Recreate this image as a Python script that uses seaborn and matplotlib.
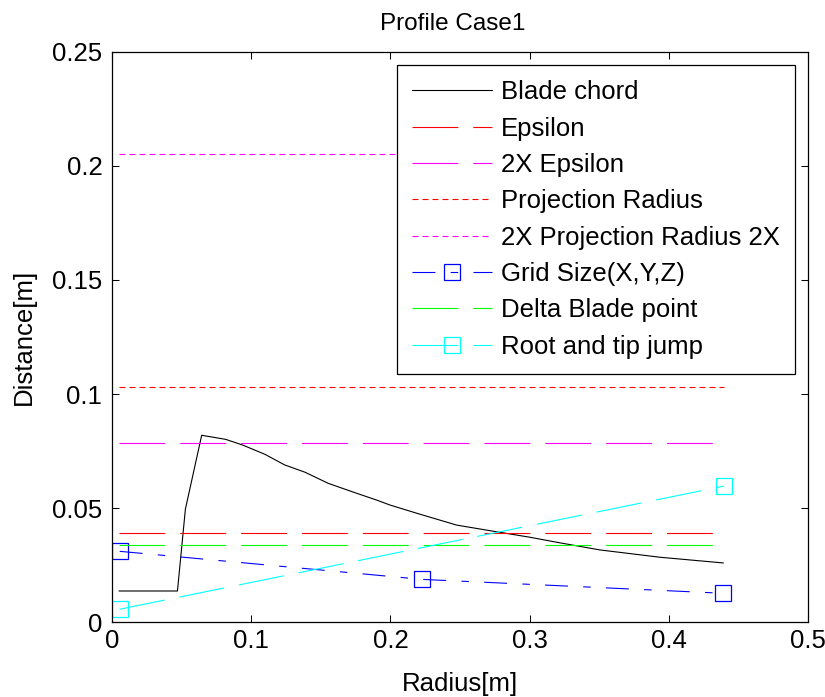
import matplotlib
matplotlib.use("Agg")
import matplotlib.pyplot as plt
import matplotlib.ticker as mticker
import numpy as np
import seaborn as sns

# ---------------- data ----------------
blade_r = [0.005, 0.047, 0.0527, 0.0644, 0.0817, 0.0939, 0.110, 0.124, 0.1386,
           0.1554, 0.1746, 0.190, 0.1997, 0.220, 0.2476, 0.276, 0.300, 0.322,
           0.3506, 0.3937, 0.4392]
blade_chord = [0.0136, 0.0136, 0.0495, 0.0819, 0.0801, 0.0776, 0.0735, 0.0689,
               0.0657, 0.0608, 0.0567, 0.0535, 0.0513, 0.0475, 0.0425, 0.0396,
               0.0372, 0.0347, 0.0316, 0.0284, 0.0259]

span_r = [0.005, 0.44]
epsilon = [0.0389, 0.0389]
epsilon_2x = [0.0784, 0.0784]
proj_radius = [0.1031, 0.1031]
proj_radius_2x = [0.2053, 0.2053]
delta_blade = [0.0336, 0.0336]

grid_r = [0.0055, 0.2225, 0.439]
grid_size = [0.0310, 0.0187, 0.0126]

jump_r = [0.0055, 0.4397]
root_tip_jump = [0.0056, 0.0596]

labels = ["Blade chord", "Epsilon", "2X Epsilon", "Projection Radius",
          "2X Projection Radius 2X", "Grid Size(X,Y,Z)", "Delta Blade point",
          "Root and tip jump"]

x_ticks = [0, 0.1, 0.2, 0.3, 0.4, 0.5]
y_ticks = [0, 0.05, 0.1, 0.15, 0.2, 0.25]

# ---------------- style ----------------
sns.set_theme(style="white")
plt.rcParams["font.family"] = ["Liberation Sans", "DejaVu Sans"]
plt.rcParams["lines.scale_dashes"] = False
plt.rcParams["text.color"] = "black"
plt.rcParams["axes.labelcolor"] = "black"
plt.rcParams["xtick.color"] = "black"
plt.rcParams["ytick.color"] = "black"
FS = 18.5
FS_TITLE = 17.5

fig = plt.figure(figsize=(8.25, 6.97), dpi=100)
ax = fig.add_axes([0.1358, 0.1076, 0.8436, 0.8178])

LW = 0.8
DASH = (33.0, 10.8)
DOT = (4.3, 2.9)
DASHDOT = (16.5, 11.0, 5.4, 11.0)

specs = [
    (blade_r, blade_chord, "black", None, None),
    (span_r, epsilon, (1, 0, 0), DASH, None),
    (span_r, epsilon_2x, (1, 0, 1), DASH, None),
    (span_r, proj_radius, (1, 0, 0), DOT, None),
    (span_r, proj_radius_2x, (1, 0, 1), DOT, None),
    (grid_r, grid_size, (0, 0, 1), DASHDOT, "s"),
    (span_r, delta_blade, (0, 1, 0), DASH, None),
    (jump_r, root_tip_jump, (0, 1, 1), DASH, "s"),
]

for (xs, ys, col, dash, mk), lab in zip(specs, labels):
    kw = dict(x=xs, y=ys, ax=ax, color=col, linewidth=LW, label=lab, sort=False)
    if mk:
        kw.update(marker=mk, markersize=11.5, markerfacecolor="none",
                  markeredgecolor=col, markeredgewidth=0.9)
    sns.lineplot(**kw)
    line = ax.lines[-1]
    if dash is not None:
        line.set_dashes(dash)

ax.set_xlim(0, 0.5)
ax.set_ylim(0, 0.25)
ax.set_xticks(x_ticks)
ax.set_yticks(y_ticks)
fmt = mticker.FuncFormatter(lambda v, p: "%g" % round(v, 4))
ax.xaxis.set_major_formatter(fmt)
ax.yaxis.set_major_formatter(fmt)
ax.tick_params(direction="in", length=5, width=0.75, color="black",
               labelsize=FS, labelcolor="black", top=True, right=True,
               bottom=True, left=True)
ax.tick_params(axis="x", pad=5)
ax.tick_params(axis="y", pad=7)
for s in ax.spines.values():
    s.set_visible(True)
    s.set_color("black")
    s.set_linewidth(0.9)
ax.grid(False)

ax.set_title("Profile Case1", fontsize=FS_TITLE, color="black", pad=16, x=0.489)
ax.set_xlabel("Radius[m]", fontsize=FS, color="black", labelpad=14)
ax.set_ylabel("Distance[m]", fontsize=FS, color="black", labelpad=12)

leg = ax.legend(loc="upper right", fontsize=FS, frameon=True, fancybox=False,
                edgecolor="black", framealpha=1, handlelength=3.1,
                handletextpad=0.35, labelspacing=0.48, borderpad=0.6,
                borderaxespad=0.5, numpoints=1, labelcolor="black")
leg.get_frame().set_linewidth(0.9)

fig.savefig("out.png", dpi=100, facecolor="white")
